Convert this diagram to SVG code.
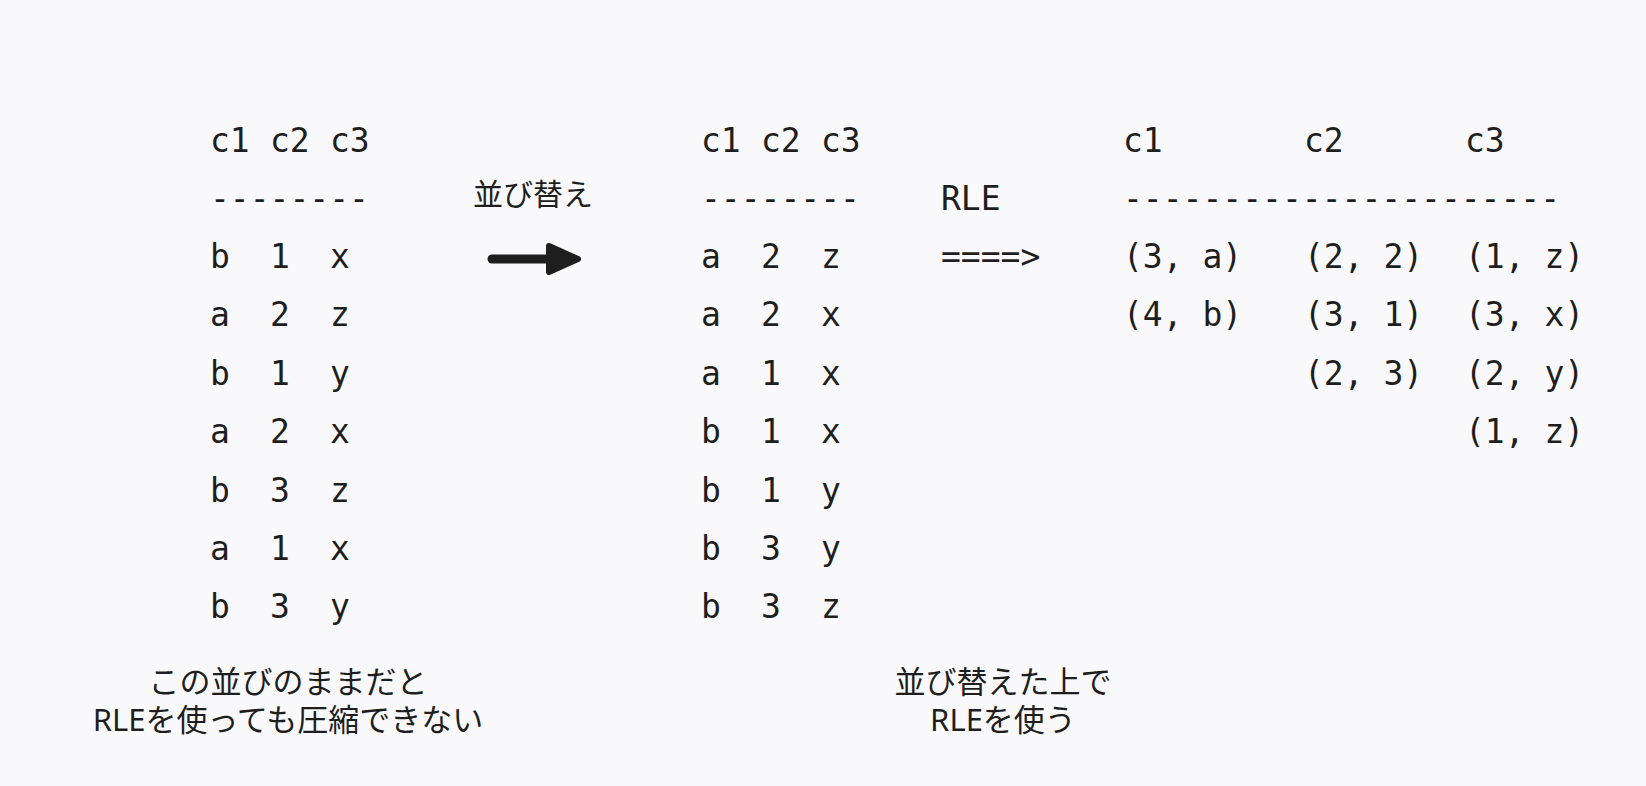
<svg xmlns="http://www.w3.org/2000/svg" width="1646" height="786" viewBox="0 0 1646 786">
<style>
.m{font-family:"DejaVu Sans Mono","Liberation Mono",monospace;font-size:33px;fill:#1e1e1e}
.j{font-family:"Noto Sans","Noto Sans CJK JP",sans-serif;font-size:31px;fill:#1e1e1e;text-anchor:middle}
</style>
<rect width="1646" height="786" fill="#f9f9fb"/>
<g id="table-original" class="m">
<text x="210" y="152">c1</text><text x="270" y="152">c2</text><text x="330" y="152">c3</text>
<text x="210" y="210">--------</text>
<text x="210" y="268">b</text><text x="270" y="268">1</text><text x="330" y="268">x</text>
<text x="210" y="326.4">a</text><text x="270" y="326.4">2</text><text x="330" y="326.4">z</text>
<text x="210" y="384.8">b</text><text x="270" y="384.8">1</text><text x="330" y="384.8">y</text>
<text x="210" y="443.2">a</text><text x="270" y="443.2">2</text><text x="330" y="443.2">x</text>
<text x="210" y="501.6">b</text><text x="270" y="501.6">3</text><text x="330" y="501.6">z</text>
<text x="210" y="560">a</text><text x="270" y="560">1</text><text x="330" y="560">x</text>
<text x="210" y="618.4">b</text><text x="270" y="618.4">3</text><text x="330" y="618.4">y</text>
</g>
<g id="table-sorted" class="m">
<text x="701" y="152">c1</text><text x="761" y="152">c2</text><text x="821" y="152">c3</text>
<text x="701" y="210">--------</text>
<text x="701" y="268">a</text><text x="761" y="268">2</text><text x="821" y="268">z</text>
<text x="701" y="326.4">a</text><text x="761" y="326.4">2</text><text x="821" y="326.4">x</text>
<text x="701" y="384.8">a</text><text x="761" y="384.8">1</text><text x="821" y="384.8">x</text>
<text x="701" y="443.2">b</text><text x="761" y="443.2">1</text><text x="821" y="443.2">x</text>
<text x="701" y="501.6">b</text><text x="761" y="501.6">1</text><text x="821" y="501.6">y</text>
<text x="701" y="560">b</text><text x="761" y="560">3</text><text x="821" y="560">y</text>
<text x="701" y="618.4">b</text><text x="761" y="618.4">3</text><text x="821" y="618.4">z</text>
</g>
<g id="table-rle" class="m">
<text x="1123" y="152">c1</text><text x="1304" y="152">c2</text><text x="1465" y="152">c3</text>
<text x="1123" y="210">----------------------</text>
<text x="1123" y="268">(3, a)</text><text x="1304" y="268">(2, 2)</text><text x="1465" y="268">(1, z)</text>
<text x="1123" y="326.4">(4, b)</text><text x="1304" y="326.4">(3, 1)</text><text x="1465" y="326.4">(3, x)</text>
<text x="1304" y="384.8">(2, 3)</text><text x="1465" y="384.8">(2, y)</text>
<text x="1465" y="443.2">(1, z)</text>
</g>
<g id="label-sort">
<text class="j" x="533" y="205" style="font-size:30px">並び替え</text>
</g>
<g id="label-rle" class="m">
<text x="941" y="210">RLE</text>
<text x="941" y="268">====&gt;</text>
</g>
<g id="caption-left">
<text class="j" x="288" y="693">この並びのままだと</text>
<text class="j" x="288" y="731">RLEを使っても圧縮できない</text>
</g>
<g id="caption-right">
<text class="j" x="1003" y="693">並び替えた上で</text>
<text class="j" x="1003" y="731">RLEを使う</text>
</g>
<g id="connectors">
<line x1="492" y1="259" x2="552" y2="259" stroke="#1e1e1e" stroke-width="9" stroke-linecap="round"/>
<polygon points="549,246 578,259 549,272" fill="#1e1e1e" stroke="#1e1e1e" stroke-width="6" stroke-linejoin="round"/>
</g>
</svg>
